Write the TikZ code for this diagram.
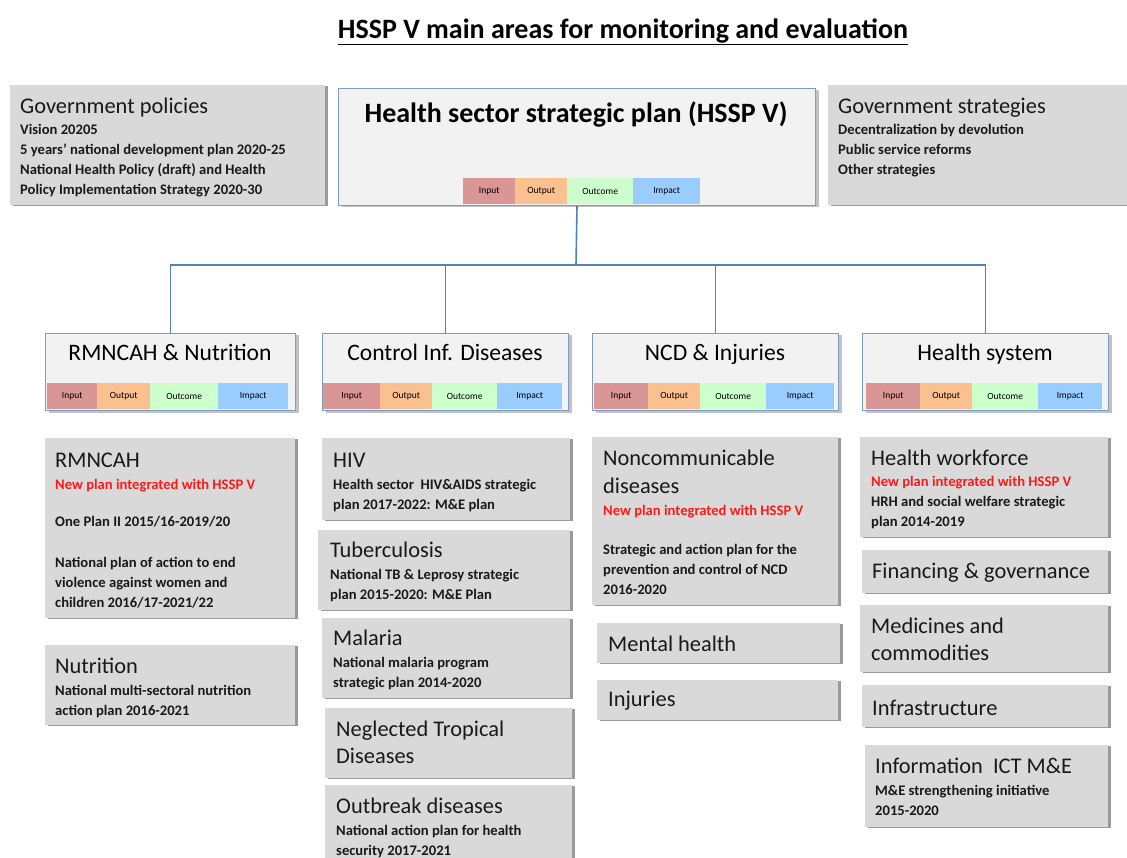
\documentclass[tikz,border=0pt]{standalone}
\usepackage{fontspec}
\setmainfont{Carlito}
\usetikzlibrary{shadows}
\definecolor{boxgray}{HTML}{D9D9D9}
\definecolor{shgray}{HTML}{9A9A9A}
\definecolor{lightfill}{HTML}{F2F2F2}
\definecolor{bordblue}{HTML}{7F9CC6}
\definecolor{connblue}{HTML}{4F81BD}
\definecolor{cin}{HTML}{D99694}
\definecolor{cout}{HTML}{FAC090}
\definecolor{cok}{HTML}{CCFFCC}
\definecolor{cimp}{HTML}{99CCFF}
\definecolor{redtxt}{HTML}{FF1A1A}
\newcommand\hd[1]{{\mdseries\fontsize{22.4}{20}\selectfont #1}}
\newcommand\rd[1]{\textcolor{redtxt}{#1}}
\tikzset{
  gbox/.style={fill=boxgray, draw=none, inner sep=0, anchor=north west,
     drop shadow={shadow xshift=3pt, shadow yshift=-1pt, fill=shgray, opacity=1}},
  bbox/.style={fill=lightfill, draw=bordblue, line width=1pt, inner sep=0, anchor=north west,
     drop shadow={shadow xshift=3pt, shadow yshift=-2pt, fill=shgray, opacity=.6}},
  txt/.style={anchor=north west, inner sep=0, align=left, text=black!90,
     font=\bfseries\fontsize{14.6}{20}\selectfont},
  bigtxt/.style={anchor=north west, inner sep=0, align=left, text=black!90,
     font=\mdseries\fontsize{22.4}{27}\selectfont},
  onetxt/.style={anchor=west, inner sep=0, text=black!90,
     font=\mdseries\fontsize{22.4}{27}\selectfont},
  cattitle/.style={inner sep=0, anchor=base, font=\fontsize{23.6}{28}\selectfont},
  cell/.style={inner sep=0, anchor=north west, font=\fontsize{9.5}{11}\selectfont},
  conn/.style={draw=connblue, line width=1.6pt},
}
% prefix, ytop, ybot, x0, x1, x2, x3, x4
\newcommand\mkcells[8]{%
  \node[cell, fill=cin,  minimum width={(#5-#4)*1pt}, minimum height={(#3-#2)*1pt}] (#1in) at (#4,#2) {Input};
  \node[cell, fill=cout, minimum width={(#6-#5)*1pt}, minimum height={(#3-#2)*1pt}] (#1out) at (#5,#2) {Output};
  \node[cell, fill=cok,  minimum width={(#7-#6)*1pt}, minimum height={(#3-#2)*1pt}] (#1oc) at (#6,#2) {Outcome};
  \node[cell, fill=cimp, minimum width={(#8-#7)*1pt}, minimum height={(#3-#2)*1pt}] (#1im) at (#7,#2) {Impact};
}
\begin{document}
\begin{tikzpicture}[x=1pt,y=-1pt]
\useasboundingbox[fill=white] (0,0) rectangle (1127,858);

% title
\node[inner sep=0, font=\bfseries\fontsize{28}{32}\selectfont] (title) at (623,32) {\underline{HSSP V main areas for monitoring and evaluation}};

% top row
\node[gbox, minimum width=315pt, minimum height=120pt] (gp) at (10,85) {};
\node[txt] (gpT) at (20,98) {\hd{Government policies}\\[1pt]Vision 20205\\5 years’ national development plan 2020-25\\National Health Policy (draft) and Health\\Policy Implementation Strategy 2020-30};

\node[gbox, minimum width=299pt, minimum height=120pt] (gs) at (828,85) {};
\node[txt] (gsT) at (838,98) {\hd{Government strategies}\\[1pt]Decentralization by devolution\\Public service reforms\\Other strategies};

\node[bbox, minimum width=477pt, minimum height=117pt] (hssp) at (338,88) {};
\node[inner sep=0, font=\bfseries\fontsize{28}{32}\selectfont] (hsspT) at (576,114) {Health sector strategic plan (HSSP V)};
\mkcells{h}{178}{204}{463}{515}{567}{633}{700}

% category boxes
\node[bbox, minimum width=250pt, minimum height=77pt] (c1) at (45,333) {};
\node[cattitle] (c1t) at (170,361) {RMNCAH \& Nutrition};
\mkcells{a}{383}{409}{47}{97}{150}{218}{288}

\node[bbox, minimum width=246pt, minimum height=77pt] (c2) at (322,333) {};
\node[cattitle] (c2t) at (445,361) {Control Inf. Diseases};
\mkcells{b}{383}{409}{323}{380}{432}{497}{562}

\node[bbox, minimum width=246pt, minimum height=77pt] (c3) at (592,333) {};
\node[cattitle] (c3t) at (715,361) {NCD \& Injuries};
\mkcells{c}{383}{409}{594}{648}{700}{766}{834}

\node[bbox, minimum width=246pt, minimum height=77pt] (c4) at (862,333) {};
\node[cattitle] (c4t) at (985,361) {Health system};
\mkcells{d}{383}{409}{866}{920}{972}{1038}{1102}

% connectors
\coordinate (j) at (576,265);
\draw[conn] (hssp.south) -- (j);
\draw[conn] (c1.north) -- (c1.north |- j) -- (c4.north |- j) -- (c4.north);
\draw[conn] (c2.north) -- (c2.north |- j);
\draw[conn] (c3.north) -- (c3.north |- j);

% column 1
\node[gbox, minimum width=250pt, minimum height=180pt] (rm) at (45,438) {};
\node[txt] (rmT) at (55,453) {\hd{RMNCAH}\\[1.5pt]\rd{New plan integrated with HSSP V}\\[17pt]One Plan II 2015/16-2019/20\\[21pt]National plan of action to end\\violence against women and\\children 2016/17-2021/22};
\node[gbox, minimum width=250pt, minimum height=80pt] (nu) at (45,645) {};
\node[txt] (nuT) at (55,658) {\hd{Nutrition}\\[1.5pt]National multi-sectoral nutrition\\action plan 2016-2021};

% column 2
\node[gbox, minimum width=248pt, minimum height=82pt] (hiv) at (322,438) {};
\node[txt] (hivT) at (333,453) {\hd{HIV}\\[1.5pt]Health sector\ \ HIV\&AIDS strategic\\plan 2017-2022: M\&E plan};
\node[gbox, minimum width=252pt, minimum height=80pt] (tb) at (318,530) {};
\node[txt] (tbT) at (330,542) {\hd{Tuberculosis}\\[1.5pt]National TB \& Leprosy strategic\\plan 2015-2020: M\&E Plan};
\node[gbox, minimum width=248pt, minimum height=80pt] (ma) at (322,618) {};
\node[txt] (maT) at (333,630) {\hd{Malaria}\\[1.5pt]National malaria program\\strategic plan 2014-2020};
\node[gbox, minimum width=247pt, minimum height=70pt] (ntd) at (325,708) {};
\node[bigtxt] (ntdT) at (336,721) {Neglected Tropical\\Diseases};
\node[gbox, minimum width=247pt, minimum height=73pt] (ob) at (325,785) {};
\node[txt] (obT) at (336,798) {\hd{Outbreak diseases}\\[1.5pt]National action plan for health\\security 2017-2021};

% column 3
\node[gbox, minimum width=246pt, minimum height=168pt] (ncd) at (592,437) {};
\node[txt] (ncdT) at (603,450) {\hd{Noncommunicable}\\[8pt]\hd{diseases}\\[2pt]\rd{New plan integrated with HSSP V}\\[19pt]Strategic and action plan for the\\prevention and control of NCD\\2016-2020};
\node[gbox, minimum width=243pt, minimum height=40pt] (mh) at (597,623) {};
\node[onetxt] (mhT) at (608,644) {Mental health};
\node[gbox, minimum width=241pt, minimum height=40pt] (inj) at (597,680) {};
\node[onetxt] (injT) at (608,701) {Injuries};

% column 4
\node[gbox, minimum width=248pt, minimum height=100pt] (hw) at (860,437) {};
\node[txt] (hwT) at (871,450) {\hd{Health workforce}\\[1pt]\rd{New plan integrated with HSSP V}\\HRH and social welfare strategic\\plan 2014-2019};
\node[gbox, minimum width=246pt, minimum height=43pt] (fg) at (862,550) {};
\node[onetxt] (fgT) at (872,573) {Financing \& governance};
\node[gbox, minimum width=248pt, minimum height=67pt] (med) at (860,605) {};
\node[bigtxt] (medT) at (871,618) {Medicines and\\commodities};
\node[gbox, minimum width=246pt, minimum height=42pt] (inf) at (862,685) {};
\node[onetxt] (infT) at (872,708) {Infrastructure};
\node[gbox, minimum width=243pt, minimum height=82pt] (ict) at (865,745) {};
\node[txt] (ictT) at (875,758) {\hd{Information\ \ ICT M\&E}\\[1.5pt]M\&E strengthening initiative\\2015-2020};
\end{tikzpicture}
\end{document}
